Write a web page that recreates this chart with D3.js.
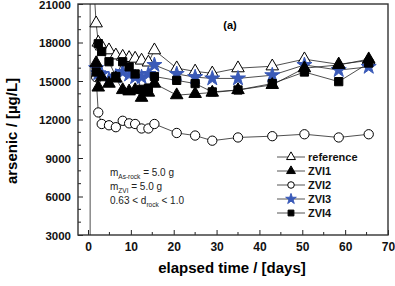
<!DOCTYPE html>
<html>
<head>
<meta charset="utf-8">
<script src="https://cdn.jsdelivr.net/npm/d3@7"></script>
<style>
  body { margin: 0; background: #fff; }
  svg { display: block; font-family: "Liberation Sans", Arial, sans-serif; }
</style>
</head>
<body>
<div id="chart"></div>
<script>
// sampling days shared by all series
const days = [1.9, 2.4, 3.2, 4.9, 6.5, 8.1, 9.6, 11, 12.5, 14.1, 15.5, 20.7, 25, 29, 35, 43, 50.5, 58.5, 65.5];

// reference run starts with an off-scale spike near day 0
const refLeadDays = [0.5, 0.5];
const refLeadValues = [0, 27000];

const reference = [19500, 18000, 17700, 17400, 17000, 16900, 16800, 16750, 16600, 16450, 17400, 16000, 15750, 15600, 16000, 16150, 16700, 16300, 16600];
const zvi1 = [16400, 14500, 15300, 14800, 15200, 14300, 14200, 14300, 13700, 14100, 14800, 13900, 14000, 14100, 14300, 14700, 16000, 16250, 16700];
const zvi2 = [15300, 12550, 11650, 11550, 11400, 11900, 11700, 11650, 11300, 11300, 11650, 10950, 10750, 10350, 10600, 10700, 10850, 10600, 10850];
const zvi3 = [16000, 15600, 15550, 15100, 15350, 15700, 15500, 15300, 15300, 15550, 16250, 15550, 15300, 15200, 15200, 15450, 16250, 15850, 16100];
const zvi4 = [15700, 17900, 17300, 16500, 15350, 16500, 16100, 15550, 14350, 14450, 15350, 15050, 14800, 14150, 14300, 14800, 15700, 14950, 16400];

const xTicks = [0, 10, 20, 30, 40, 50, 60, 70];
const yTicks = [3000, 6000, 9000, 12000, 15000, 18000, 21000];

const width = 395, height = 286;
const marginLeft = 78, plotRight = 388, marginTop = 4, plotBottom = 235;

const x = d3.scaleLinear().domain([-2.33, 70]).range([marginLeft, plotRight]);
const y = d3.scaleLinear().domain([3000, 21000]).range([plotBottom, marginTop]);

const svg = d3.select("#chart").append("svg")
    .attr("width", width)
    .attr("height", height);

svg.append("clipPath").attr("id", "clip")
  .append("rect")
    .attr("x", marginLeft).attr("y", marginTop)
    .attr("width", plotRight - marginLeft).attr("height", plotBottom - marginTop);

// axes, ticks pointing inward
const gx = svg.append("g")
    .attr("transform", `translate(0,${plotBottom})`)
    .call(d3.axisBottom(x).tickValues(xTicks).tickSize(-5).tickPadding(7).tickFormat(d3.format("d")));
gx.append("g").selectAll("line")
  .data(d3.range(5, 70, 10))
  .join("line")
    .attr("x1", d => x(d)).attr("x2", d => x(d))
    .attr("y1", 0).attr("y2", -3)
    .attr("stroke", "#222");

const gy = svg.append("g")
    .attr("transform", `translate(${marginLeft},0)`)
    .call(d3.axisLeft(y).tickValues(yTicks).tickSize(-5).tickPadding(7).tickFormat(d3.format("d")));
gy.append("g").selectAll("line")
  .data(d3.range(4000, 21000, 1000).filter(d => d % 3000 !== 0))
  .join("line")
    .attr("x1", 0).attr("x2", 3)
    .attr("y1", d => y(d)).attr("y2", d => y(d))
    .attr("stroke", "#222");

[gx, gy].forEach(g => {
  g.select(".domain").remove();
  g.selectAll(".tick line").attr("stroke", "#222");
  g.selectAll(".tick text")
    .attr("fill", "#111")
    .style("font-size", "12px")
    .style("font-weight", "bold");
});
gy.selectAll(".tick text").style("font-size", "11.5px").attr("dy", "0.36em");

// frame
svg.append("rect")
    .attr("x", marginLeft).attr("y", marginTop)
    .attr("width", plotRight - marginLeft).attr("height", plotBottom - marginTop)
    .attr("fill", "none")
    .attr("stroke", "#333")
    .attr("stroke-width", 1.4);

// series
const series = [
  { name: "reference", values: reference, symbol: d3.symbolTriangle, size: 68, fill: "#fff" },
  { name: "ZVI2", values: zvi2, symbol: d3.symbolCircle, size: 68, fill: "#fff" },
  { name: "ZVI3", values: zvi3, symbol: d3.symbolStar, size: 70, fill: "#3a5ab8" },
  { name: "ZVI1", values: zvi1, symbol: d3.symbolTriangle, size: 68, fill: "#000" },
  { name: "ZVI4", values: zvi4, symbol: d3.symbolSquare, size: 68, fill: "#000" }
];

const plot = svg.append("g").attr("clip-path", "url(#clip)");
const line = d3.line().x(d => x(d[0])).y(d => y(d[1]));

series.forEach(s => {
  let pts = days.map((d, i) => [d, s.values[i]]);
  if (s.name === "reference") {
    pts = refLeadDays.map((d, i) => [d, refLeadValues[i]]).concat(pts);
  }
  plot.append("path")
      .datum(pts)
      .attr("fill", "none")
      .attr("stroke", "#222")
      .attr("stroke-width", 0.8)
      .attr("d", line);
});

const legendOrder = ["reference", "ZVI1", "ZVI2", "ZVI3", "ZVI4"];
const drawOrder = ["reference", "ZVI2", "ZVI3", "ZVI1", "ZVI4"];
drawOrder.forEach(name => {
  const s = series.find(d => d.name === name);
  plot.append("g").selectAll("path")
    .data(days.map((d, i) => [d, s.values[i]]))
    .join("path")
      .attr("transform", d => `translate(${x(d[0])},${y(d[1])})`)
      .attr("d", d3.symbol(s.symbol, s.size))
      .attr("fill", s.fill)
      .attr("stroke", s.fill === "#3a5ab8" ? "#3a5ab8" : "#000")
      .attr("stroke-width", 1);
});

// legend
const legend = svg.append("g").attr("transform", "translate(277,157)");
legendOrder.forEach((name, i) => {
  const s = series.find(d => d.name === name);
  const g = legend.append("g").attr("transform", `translate(0,${i * 14})`);
  g.append("line")
      .attr("x1", 0).attr("x2", 28)
      .attr("stroke", "#555").attr("stroke-width", 1);
  g.append("path")
      .attr("transform", "translate(14,0)")
      .attr("d", d3.symbol(s.symbol, s.size * 0.5))
      .attr("fill", s.fill)
      .attr("stroke", s.fill === "#3a5ab8" ? "#3a5ab8" : "#000");
  g.append("text")
      .attr("x", 31).attr("dy", "0.36em")
      .style("font-size", "11px")
      .style("font-weight", "bold")
      .attr("fill", "#111")
      .text(name);
});

// panel tag
svg.append("text")
    .attr("x", 230).attr("y", 29)
    .attr("text-anchor", "middle")
    .style("font-size", "11px")
    .style("font-weight", "bold")
    .text("(a)");

// experiment conditions
const note = svg.append("g").attr("fill", "#222").style("font-size", "10px");
const t1 = note.append("text").attr("x", 110).attr("y", 176);
t1.append("tspan").text("m");
t1.append("tspan").attr("dy", 3).style("font-size", "6.5px").text("As-rock");
t1.append("tspan").attr("dy", -3).text(" = 5.0 g");
const t2 = note.append("text").attr("x", 110).attr("y", 190);
t2.append("tspan").text("m");
t2.append("tspan").attr("dy", 3).style("font-size", "6.5px").text("ZVI");
t2.append("tspan").attr("dy", -3).text(" = 5.0 g");
const t3 = note.append("text").attr("x", 110).attr("y", 204);
t3.append("tspan").text("0.63 < d");
t3.append("tspan").attr("dy", 3).style("font-size", "6.5px").text("rock");
t3.append("tspan").attr("dy", -3).text(" < 1.0");

// axis titles
svg.append("text")
    .attr("x", 232).attr("y", 273)
    .attr("text-anchor", "middle")
    .style("font-size", "15px")
    .style("font-weight", "bold")
    .text("elapsed time / [days]");

svg.append("text")
    .attr("transform", "translate(17,131) rotate(-90)")
    .attr("text-anchor", "middle")
    .style("font-size", "15px")
    .style("font-weight", "bold")
    .text("arsenic / [µg/L]");
</script>
</body>
</html>
